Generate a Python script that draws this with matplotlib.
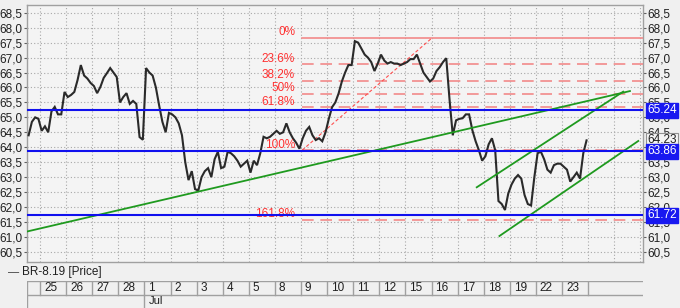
import matplotlib
matplotlib.use('Agg')
import matplotlib.pyplot as plt
import numpy as np

plt.rcParams['font.family'] = ['Liberation Sans', 'DejaVu Sans']

# ---------------- data ----------------
days = ['24', '25', '26', '27', '28', '1', '2', '3', '4', '5', '8', '9', '10',
        '11', '12', '15', '16', '17', '18', '19', '22', '23']
month_label = 'Jul'
month_start_day = '1'
bars_per_day = 8
first_visible = 0.5   # chart starts in the middle of the first day

price = [
    # 24 (second half)
    64.40, 64.85, 65.00, 64.95,
    # 25
    64.55, 64.70, 64.50, 65.20, 65.35, 65.10, 65.10, 65.85,
    # 26
    65.68, 65.75, 65.85, 66.25, 66.75, 66.40, 66.30, 66.15,
    # 27
    66.05, 65.81, 66.02, 66.32, 66.48, 66.65, 66.50, 66.35,
    # 28
    65.50, 65.68, 65.81, 65.45, 65.55, 65.45, 64.34, 64.25,
    # 1 Jul
    66.65, 66.50, 66.40, 66.00, 65.40, 64.85, 64.50, 65.15,
    # 2
    65.10, 65.00, 64.80, 64.40, 63.50, 62.90, 63.20, 62.60,
    # 3
    62.55, 63.00, 63.20, 63.30, 63.00, 63.60, 63.85, 63.30,
    # 4
    63.35, 63.85, 63.80, 63.70, 63.55, 63.35, 63.45, 63.55,
    # 5
    63.15, 63.55, 63.40, 63.80, 64.35, 64.30, 64.35, 64.45,
    # 8
    64.55, 64.45, 64.50, 64.80, 64.50, 64.30, 64.15, 63.95,
    # 9
    64.30, 64.55, 64.68, 64.40, 64.24, 64.30, 64.20, 64.50,
    # 10
    64.95, 65.34, 65.50, 65.80, 66.20, 66.50, 66.75, 66.75,
    # 11
    67.55, 67.50, 67.30, 67.10, 67.00, 66.85, 66.55, 66.80,
    # 12
    67.10, 66.90, 66.80, 66.85, 66.80, 66.80, 66.75, 66.80,
    # 15
    66.85, 66.95, 66.95, 67.10, 66.80, 66.50, 66.35, 66.20,
    # 16
    66.30, 66.55, 66.68, 66.85, 66.98, 65.60, 64.40, 64.90,
    # 17
    64.95, 64.97, 65.10, 65.10, 64.57, 64.20, 63.90, 63.55,
    # 18
    63.70, 64.10, 64.30, 63.90, 62.20, 62.10, 61.90, 62.45,
    # 19
    62.75, 62.95, 63.07, 62.95, 62.40, 62.10, 62.05, 63.00,
    # 22
    63.80, 63.85, 63.60, 63.25, 63.15, 63.40, 63.45, 63.45,
    # 23
    63.35, 63.25, 62.85, 63.00, 63.15, 62.95, 63.80, 64.23,
]
last_price = 64.23
levels = [65.24, 63.86, 61.72]

fib_high = 67.66
fib_low = 63.90
fib_ratios = [0.0, 23.6, 38.2, 50.0, 61.8, 100.0, 161.8]
fib_labels = ['0%', '23.6%', '38.2%', '50%', '61.8%', '100%', '161.8%']
fib_start = 11.04   # day-slot of the low anchor
fib_end = 16.02     # day-slot of the high anchor

trend_x = [[0.5, 23.60], [17.73, 23.34], [18.60, 23.92]]
trend_y = [[61.18, 65.88], [62.66, 65.86], [61.03, 64.21]]

yticks = np.arange(60.5, 68.51, 0.5)
legend_text = 'BR-8.19 [Price]'

# ---------------- layout ----------------
W, H = 680, 308
fig = plt.figure(figsize=(W / 100, H / 100), dpi=100, facecolor='#f0f0f0')
L, R, T, B = 27, 643, 5, 262
ax = fig.add_axes([L / W, 1 - B / H, (R - L) / W, (B - T) / H])
ax.set_facecolor('#f4f4f4')
xmax = 24.10
ax.set_xlim(first_visible, xmax)
ax.set_ylim(60.16, 68.76)

grid_c = '#a8a8a8'
for k in range(1, len(days) + 3):
    ax.axvline(k, color=grid_c, lw=0.8, ls=(0, (1, 2)), zorder=0)
for yv in yticks:
    ax.axhline(yv, color=grid_c, lw=0.8, ls=(0, (1, 2)), zorder=0)

ax.set_xticks([])
ax.set_yticks(yticks)
lbls = [f'{v:.1f}'.replace('.', ',') for v in yticks]
ax.set_yticklabels(lbls, fontsize=8.5)
ax.tick_params(axis='y', length=2, pad=1, colors='#606060', labelcolor='#202020',
               left=True, right=True, labelleft=True, labelright=True)
for s in ax.spines.values():
    s.set_color('#a0a0a0')
    s.set_linewidth(1)

# price
xs = first_visible + (np.arange(len(price)) + 0.5) / bars_per_day
ax.plot(xs, price, color='#2a2a2a', lw=1.5, zorder=5, solid_joinstyle='miter')

# fibonacci
fib_c = '#f28a8a'
rng = fib_high - fib_low
for r, lab in zip(fib_ratios, fib_labels):
    lv = fib_high - rng * r / 100.0
    if r == 0:
        ax.plot([fib_start, xmax], [lv, lv], color=fib_c, lw=1.2, zorder=3)
    else:
        ax.plot([fib_start, xmax], [lv, lv], color=fib_c, lw=1.2,
                ls=(0, (7, 4)), zorder=3)
    ax.text(fib_start - 0.27, lv + 0.19, lab, color='#ff3030', fontsize=8.5,
            ha='right', va='center', zorder=6)
ax.plot([fib_start, fib_end], [fib_low, fib_high], color='#ff5050', lw=0.8,
        ls=(0, (3, 2)), zorder=4)

# trend lines
for tx, ty in zip(trend_x, trend_y):
    ax.plot(tx, ty, color='#1f9a1f', lw=1.3, zorder=6)

# horizontal levels
for lv in levels:
    ax.axhline(lv, color='#1010ee', lw=1.5, zorder=7)
    ax.text(1.007, lv, f'{lv:.2f}', transform=ax.get_yaxis_transform(),
            color='white', fontsize=8.5, ha='left', va='center', zorder=20,
            bbox=dict(boxstyle='square,pad=0.12', fc='#1818f0', ec='#1818f0'),
            clip_on=False)
ax.text(1.007, last_price, f'{last_price:.2f}', transform=ax.get_yaxis_transform(),
        color='#202020', fontsize=8.5, ha='left', va='center', zorder=19,
        bbox=dict(boxstyle='square,pad=0.12', fc='#f4f4f4', ec='#909090', lw=0.8),
        clip_on=False)

# legend text
fig.text(8 / W, 1 - 272 / H, '—', fontsize=8, color='#303030', va='center')
fig.text(22 / W, 1 - 272 / H, legend_text, fontsize=8.5, color='#202020', va='center')

# date axis
dax = fig.add_axes([L / W, 0, (R - L) / W, (308 - 281) / H])
dax.set_xlim(first_visible, xmax)
dax.set_ylim(0, 2)
dax.set_facecolor('#f0f0f0')
dax.set_xticks([])
dax.set_yticks([])
for s in dax.spines.values():
    s.set_visible(False)
line_c = '#a0a0a0'
dax.axhline(2, color=line_c, lw=1)
dax.axhline(1, color=line_c, lw=1)
dax.axvline(first_visible, color=line_c, lw=1)
for k, d in enumerate(days):
    if k == 0:
        continue
    dax.plot([k, k], [1, 2], color=line_c, lw=1)
    dax.text(k + 0.15, 1.45, d, fontsize=8.5, ha='left', va='center', color='#202020')
    if d == month_start_day:
        dax.plot([k, k], [0, 1], color=line_c, lw=1)
        dax.text(k + 0.15, 0.5, month_label, fontsize=8, ha='left', va='center',
                 color='#202020')
dax.plot([len(days), len(days)], [1, 2], color=line_c, lw=1)

fig.savefig('out.png', dpi=100, facecolor=fig.get_facecolor())
